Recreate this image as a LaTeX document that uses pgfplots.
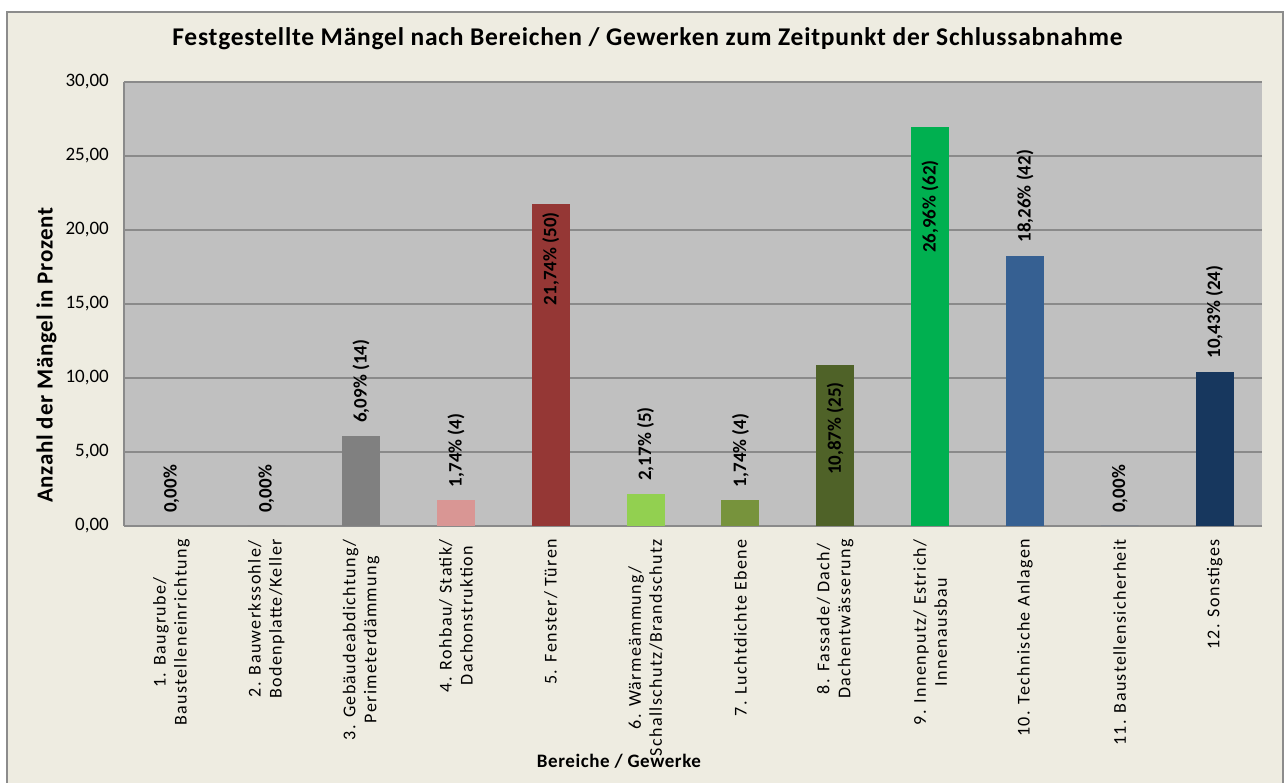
\documentclass[border=0pt]{standalone}
\usepackage{fontspec}
\setmainfont{Carlito}
\newfontfamily\catfont{Carlito}[LetterSpace=7.5]
\newfontfamily\titfont{Carlito}[LetterSpace=3]
\usepackage{pgfplots}
\pgfplotsset{compat=1.18}
\definecolor{bg}{HTML}{EEECE1}
\definecolor{plotbg}{HTML}{C0C0C0}
\definecolor{gridc}{HTML}{8A8A8A}
\definecolor{frame}{HTML}{8C8C8C}
\definecolor{c3}{HTML}{808080}
\definecolor{c4}{HTML}{D99694}
\definecolor{c5}{HTML}{953735}
\definecolor{c6}{HTML}{92D050}
\definecolor{c7}{HTML}{77933C}
\definecolor{c8}{HTML}{4F6228}
\definecolor{c9}{HTML}{00B050}
\definecolor{c10}{HTML}{366092}
\definecolor{c12}{HTML}{17375E}
\pgfplotsset{
  above/.style={nodes near coords={#1},
    every node near coord/.append style={rotate=90, anchor=west, inner xsep=13pt, inner ysep=0pt}},
  inside/.style 2 args={nodes near coords={#1},
    every node near coord/.append style={rotate=90, anchor=east, inner xsep=#2, inner ysep=0pt}},
}
\begin{document}
\begin{tikzpicture}
\useasboundingbox (0,0) rectangle (1288pt,783pt);
\fill[white] (0,0) rectangle (1288pt,783pt);
\draw[fill=bg, draw=frame, line width=1.2pt] (7pt,-5pt) rectangle (1283pt,771pt);
\begin{axis}[
  at={(124pt,257pt)}, anchor=south west,
  scale only axis, width=1138pt, height=444pt,
  xmin=0.5, xmax=12.5, ymin=0, ymax=30,
  ytick={0,5,...,30},
  xtick={1,...,12},
  xticklabels={{1. Baugrube/\\Baustelleneinrichtung},
    {2. Bauwerkssohle/\\Bodenplatte/Keller},
    {3. Gebäudeabdichtung/\\Perimeterdämmung},
    {4. Rohbau/ Statik/\\Dachonstruktion},
    {5. Fenster/ Türen},
    {6. Wärmeämmung/\\Schallschutz/Brandschutz},
    {7. Luchtdichte Ebene},
    {8. Fassade/ Dach/\\Dachentwässerung},
    {9. Innenputz/ Estrich/\\Innenausbau},
    {10. Technische Anlagen},
    {11. Baustellensicherheit},
    {12. Sonstiges}},
  xticklabel style={rotate=90, anchor=east, align=center, font=\catfont\fontsize{18}{21}\selectfont, inner xsep=13pt},
  yticklabel style={/pgf/number format/fixed, /pgf/number format/fixed zerofill, /pgf/number format/precision=2, /pgf/number format/use comma, /pgf/number format/assume math mode=true},
  yticklabel style={font=\fontsize{19}{21}\selectfont, inner xsep=15pt},
  major tick length=0pt,
  axis background/.style={fill=plotbg},
  ymajorgrids, grid style={gridc, line width=1.3pt},
  axis lines*=left,
  axis line style={draw=gridc, line width=1.3pt},
  ybar, bar width=0.4, bar shift=0pt,
  every node near coord/.append style={font=\bfseries\fontsize{19}{21}\selectfont, text=black},
  title={Festgestellte Mängel nach Bereichen / Gewerken zum Zeitpunkt der Schlussabnahme},
  title style={font=\titfont\bfseries\fontsize{25.5}{28}\selectfont, at={(axis description cs:0.46,1.083)}, anchor=center},
  ylabel={Anzahl der Mängel in Prozent},
  ylabel style={font=\titfont\bfseries\fontsize{23}{26}\selectfont, at={(axis description cs:-0.068,0.385)}, rotate=0, anchor=center},
  xlabel={Bereiche / Gewerke},
  xlabel style={font=\titfont\bfseries\fontsize{19}{22}\selectfont, at={(axis description cs:0.435,-0.529)}, anchor=center},
]
\addplot[draw=none, fill=c3, above={0,00\%}] coordinates {(1,0)};
\addplot[draw=none, fill=c3, above={0,00\%}] coordinates {(2,0)};
\addplot[draw=none, fill=c3, above={6,09\% (14)}] coordinates {(3,6.09)};
\addplot[draw=none, fill=c4, above={1,74\% (4)}] coordinates {(4,1.74)};
\addplot[draw=none, fill=c5, inside={21,74\% (50)}{8pt}] coordinates {(5,21.74)};
\addplot[draw=none, fill=c6, above={2,17\% (5)}] coordinates {(6,2.17)};
\addplot[draw=none, fill=c7, above={1,74\% (4)}] coordinates {(7,1.74)};
\addplot[draw=none, fill=c8, inside={10,87\% (25)}{17pt}] coordinates {(8,10.87)};
\addplot[draw=none, fill=c9, inside={26,96\% (62)}{33pt}] coordinates {(9,26.96)};
\addplot[draw=none, fill=c10, above={18,26\% (42)}] coordinates {(10,18.26)};
\addplot[draw=none, fill=c10, above={0,00\%}] coordinates {(11,0)};
\addplot[draw=none, fill=c12, above={10,43\% (24)}] coordinates {(12,10.43)};
\end{axis}
\end{tikzpicture}
\end{document}
